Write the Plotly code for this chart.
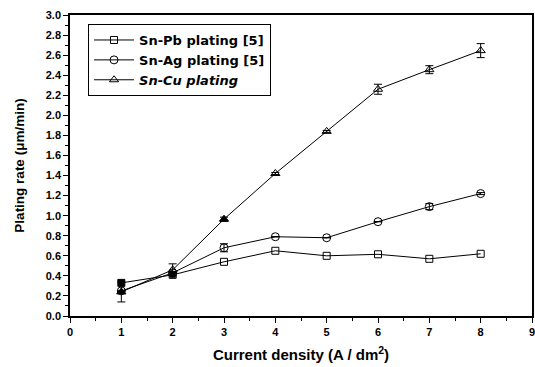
import plotly.graph_objects as go

current_density = [1, 2, 3, 4, 5, 6, 7, 8]
sn_pb = [0.33, 0.41, 0.54, 0.65, 0.60, 0.615, 0.57, 0.62]
sn_ag = [0.25, 0.43, 0.68, 0.79, 0.78, 0.94, 1.09, 1.22]
sn_ag_err = [0, 0, 0.04, 0, 0, 0, 0.03, 0.01]
sn_cu = [0.24, 0.46, 0.965, 1.42, 1.84, 2.26, 2.455, 2.645]
sn_cu_err = [0.10, 0.06, 0.02, 0.01, 0.01, 0.05, 0.04, 0.07]

names = ["<b>Sn-Pb plating [5]</b>", "<b>Sn-Ag plating [5]</b>", "<b><i>Sn-Cu plating</i></b>"]

font_family = "Liberation Sans, Arial, sans-serif"
legend_family = "DejaVu Sans, Liberation Sans, sans-serif"

fig = go.Figure()
fig.add_trace(go.Scatter(
    x=current_density, y=sn_pb, name=names[0], mode="lines+markers",
    line=dict(color="black", width=1),
    marker=dict(symbol="square-open", size=7, color="black", line=dict(width=1, color="black")),
))
fig.add_trace(go.Scatter(
    x=current_density, y=sn_ag, name=names[1], mode="lines+markers",
    line=dict(color="black", width=1),
    marker=dict(symbol="circle-open", size=8, color="black", line=dict(width=1, color="black")),
    error_y=dict(type="data", array=sn_ag_err, visible=True, color="black", thickness=1, width=4),
))
fig.add_trace(go.Scatter(
    x=current_density, y=sn_cu, name=names[2], mode="lines+markers",
    line=dict(color="black", width=1),
    marker=dict(symbol="triangle-up-open", size=8, color="black", line=dict(width=1, color="black")),
    error_y=dict(type="data", array=sn_cu_err, visible=True, color="black", thickness=1, width=4),
))
# Overlapping points rendered as solid blobs
fig.add_trace(go.Scatter(
    x=current_density[0:1], y=sn_pb[0:1], mode="markers", showlegend=False, hoverinfo="skip",
    marker=dict(symbol="square", size=7, color="black"),
))
fig.add_trace(go.Scatter(
    x=[current_density[0], current_density[2]], y=[sn_cu[0], sn_cu[2]], mode="markers",
    showlegend=False, hoverinfo="skip",
    marker=dict(symbol="triangle-up", size=8, color="black"),
))
fig.add_trace(go.Scatter(
    x=current_density[1:2], y=sn_pb[1:2], mode="markers", showlegend=False, hoverinfo="skip",
    marker=dict(symbol="square", size=6, color="black"),
))

tick_font = dict(family=font_family, size=11, color="black", weight="bold")
axis_common = dict(
    showline=True, linecolor="black", linewidth=1.5, mirror=True,
    ticks="outside", ticklen=5, tickwidth=1.2, tickcolor="black",
    showgrid=False, zeroline=False, automargin=False,
    tickfont=tick_font, ticklabeloverflow="allow",
    minor=dict(ticks="outside", ticklen=3, tickcolor="black", tickwidth=1, nticks=2),
)

fig.update_xaxes(
    range=[0, 9], dtick=1, **axis_common,
    title=dict(text="<b>Current density (A / dm<sup>2</sup>)</b>",
               font=dict(family=font_family, size=15, color="black"), standoff=13),
)
fig.update_yaxes(
    range=[0, 3.0], dtick=0.2, tickformat=".1f", **axis_common,
    title=dict(text="<b>Plating rate (μm/min)</b>",
               font=dict(family=font_family, size=13.5, color="black"), standoff=18),
)

fig.update_layout(
    width=535, height=367,
    margin=dict(l=70, r=3, t=15, b=51),
    plot_bgcolor="white", paper_bgcolor="white",
    font=dict(family=font_family, color="black"),
    legend=dict(
        x=0.039, y=0.97, xanchor="left", yanchor="top",
        bordercolor="black", borderwidth=1, bgcolor="white",
        font=dict(family=legend_family, size=13, color="black"),
        tracegroupgap=0, itemwidth=40,
    ),
    showlegend=True,
)

fig.write_html("out.html", config={"displayModeBar": False},
               post_script="document.body.style.margin='0';document.body.style.padding='0';")
